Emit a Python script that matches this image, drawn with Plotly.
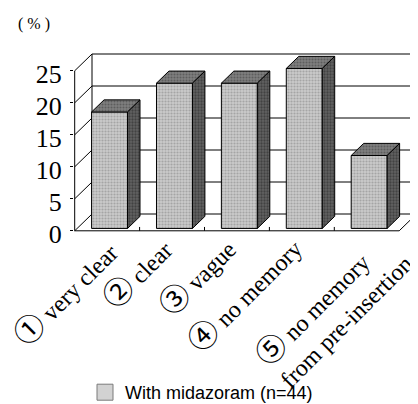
import plotly.graph_objects as go

# ---- data ----
categories = ["① very clear", "② clear", "③ vague", "④ no memory", "⑤ no memory<br>from pre-insertion"]
values = [18.2, 22.7, 22.7, 25.0, 11.4]
y_ticks = [0, 5, 10, 15, 20, 25]
series_name = "With midazoram (n=44)"
y_unit_label = "( % )"

# ---- geometry / style constants (pixels) ----
W, H = 418, 404
PX_X, PX_Y = 64.9, 6.4          # px per category unit / per percent
FL, Y0 = 66.7, 222.8            # px of front-left floor corner
ML, MR, MT, MB = 66, 7, 44, 178
DX = 17.3 / PX_X                # depth offset in data units
DY = 16.8 / PX_Y
F1, F2 = 0.14, 0.86             # bar front/back depth fractions
BW = 0.277                      # half bar width (category units)
LABEL_DX = [21, 11, 10, 11, 54]        # px offset of label end from category centre
LABEL_TOP = [219, 216, 216, 215, 208]  # px of label top

xmin = -0.5 - (FL - ML) / PX_X
xmax = -0.5 + (W - MR - FL) / PX_X
ymin = -(H - MB - Y0) / PX_Y
ymax = (Y0 - MT) / PX_Y

def paper_x(px):
    return (px - ML) / (W - ML - MR)

def paper_y(py):
    return (H - MB - py) / (H - MT - MB)

def x_to_px(x):
    return FL + (x + 0.5) * PX_X

n = len(values)
ytop = max(y_ticks)
LINE = dict(color="black", width=1)

fig = go.Figure()

def seg(xs, ys, color="black", width=1):
    fig.add_trace(go.Scatter(x=xs, y=ys, mode="lines", line=dict(color=color, width=width),
                             showlegend=False, hoverinfo="skip"))

left = -0.5
right = n - 0.5
# back wall gridlines
for t in y_ticks:
    seg([left + DX, right + DX], [t + DY, t + DY])
    seg([left, left + DX], [t, t + DY])
# back wall edges
seg([left + DX, left + DX], [DY, ytop + DY])
seg([right + DX, right + DX], [DY, ytop + DY])
# front axis
seg([left, left], [0, ytop])
# floor
seg([left, right, right + DX], [0, 0, DY])
for k in range(1, n):
    seg([left + k, left + k], [0, 0.6])

# bars
fx = [i + F1 * DX for i in range(n)]
d = (F2 - F1) * DX
dy = (F2 - F1) * DY
for i, v in enumerate(values):
    x0 = fx[i] - BW
    x1 = fx[i] + BW
    b = F1 * DY
    top = b + v
    # front face
    fig.add_trace(go.Scatter(
        x=[x0, x1, x1, x0, x0], y=[b, b, top, top, b],
        mode="lines", fill="toself", fillcolor="#c0c0c0", line=LINE,
        fillpattern=dict(shape=".", fgcolor="#808080", bgcolor="#cacaca", size=3, solidity=0.4),
        showlegend=False, hoverinfo="skip"))
    # top face
    fig.add_trace(go.Scatter(
        x=[x0, x1, x1 + d, x0 + d, x0], y=[top, top, top + dy, top + dy, top],
        mode="lines", fill="toself", fillcolor="#7a7a7a", line=LINE,
        fillpattern=dict(shape=".", fgcolor="#3a3a3a", bgcolor="#808080", size=3, solidity=0.4),
        showlegend=False, hoverinfo="skip"))
    # side face
    fig.add_trace(go.Scatter(
        x=[x1, x1 + d, x1 + d, x1, x1], y=[b, b + dy, top + dy, top, b],
        mode="lines", fill="toself", fillcolor="#555555", line=LINE,
        fillpattern=dict(shape=".", fgcolor="#222222", bgcolor="#626262", size=3, solidity=0.45),
        showlegend=False, hoverinfo="skip"))

# legend entry
fig.add_trace(go.Scatter(
    x=[None], y=[None], mode="markers", name=series_name,
    marker=dict(symbol="square", size=16, color="#d2d2d2", line=dict(color="#7a7a7a", width=1))))

# category labels (placed below the floor, rotated)
LABEL_FONT = dict(family="Liberation Serif", size=24, color="black")

def styled(label):
    head, rest = label[0], label[1:]
    return ("<span style=\"font-family:'Noto Sans CJK JP';font-size:30px\">" + head + "</span>" + rest)

annots = []
for i, c in enumerate(categories):
    annots.append(dict(x=paper_x(x_to_px(i) + LABEL_DX[i]), y=paper_y(LABEL_TOP[i]),
                       xref="paper", yref="paper", text=styled(c), showarrow=False,
                       textangle=-45, align="left", xanchor="right", yanchor="top",
                       font=LABEL_FONT))
annots.append(dict(x=paper_x(26), y=paper_y(16), xref="paper", yref="paper", text=y_unit_label,
                   showarrow=False, xanchor="center", yanchor="middle",
                   font=dict(family="Liberation Serif", size=16, color="black")))
fig.update_layout(annotations=annots)

fig.update_layout(
    width=W, height=H,
    margin=dict(l=ML, r=MR, t=MT, b=MB, autoexpand=False),
    paper_bgcolor="white", plot_bgcolor="white",
    xaxis=dict(range=[xmin, xmax], showgrid=False, zeroline=False, showticklabels=False,
               showline=False, ticks="", automargin=False),
    yaxis=dict(range=[ymin, ymax], showgrid=False, zeroline=False, tickvals=y_ticks,
               ticktext=[str(t) for t in y_ticks], ticks="outside", ticklen=3,
               tickcolor="black", showline=False, automargin=False,
               ticklabelstandoff=3, ticklabelshift=3,
               tickfont=dict(family="Liberation Serif", size=26, color="black")),
    showlegend=True,
    legend=dict(x=paper_x(77), y=paper_y(366),
                xanchor="left", yanchor="top", bgcolor="rgba(0,0,0,0)",
                font=dict(family="Liberation Sans", size=18, color="black")),
)

fig.write_html("out.html")
